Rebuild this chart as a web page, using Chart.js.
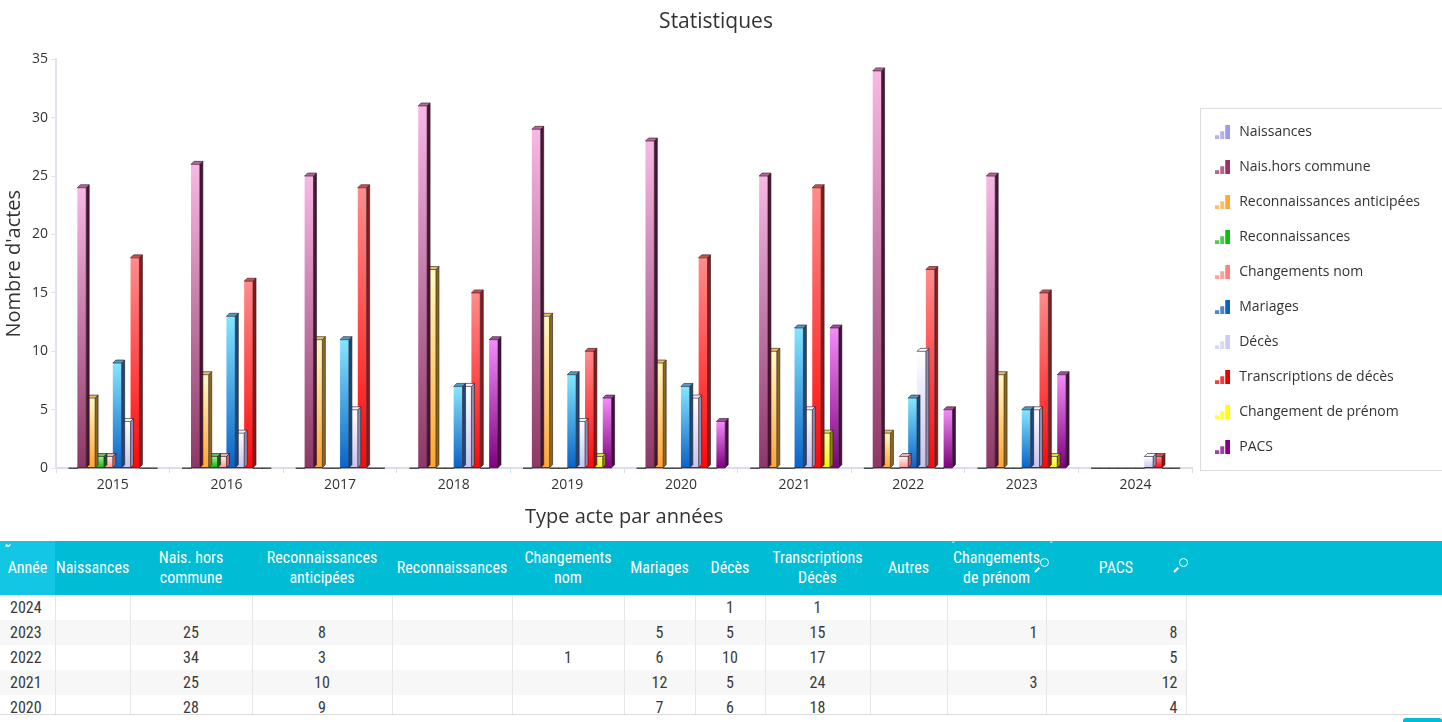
<!DOCTYPE html>
<html><head><meta charset="utf-8">
<script src="https://cdn.jsdelivr.net/npm/chart.js@4.4.0/dist/chart.umd.min.js"></script>
<style>
html,body{margin:0;padding:0;background:#fff;width:1442px;height:722px;overflow:hidden;}
#wrap{position:absolute;left:0;top:0;width:1442px;height:535px;}
#hdrbg{position:absolute;left:0;top:541px;width:1442px;height:54px;background:#00bcd4;}
#tbl{position:absolute;left:0;top:541px;width:1442px;height:173px;overflow:hidden;border-bottom:1px solid #dcdcdc;}
table{border-collapse:collapse;table-layout:fixed;width:1186px;font-family:'Liberation Sans Narrow','Roboto Condensed','Arial Narrow',sans-serif;font-size:16px;color:#3a3a3a;}
th{background:#00bcd4;color:#fff;font-weight:normal;height:54px;padding:0;line-height:20px;text-align:center;}
th.first{background:#12c6e4;}
td{height:25px;padding:0;border-right:1px solid #e6e6e6;text-align:center;line-height:25px;}
td.l{text-align:left;padding-left:10px;}
td.r{text-align:right;padding-right:8px;}
tr.alt td{background:#f7f7f7;}
.ic{position:absolute;color:#fff;font-family:'DejaVu Sans',sans-serif;}
.mag{position:absolute;width:7px;height:7px;border:1.5px solid #fff;border-radius:50%;}
.magh{position:absolute;width:6px;height:1.5px;background:#fff;transform:rotate(-45deg);}
#tab{position:absolute;left:1403px;top:718px;width:39px;height:4px;background:#00bcd4;border-radius:3px 3px 0 0;}
</style></head>
<body>
<div id="wrap"><canvas id="c"></canvas></div>
<div id="hdrbg"></div>
<div id="tbl"></div>
<span class="ic" style="left:3px;top:536px;font-size:12px;">⌄</span>
<span class="ic" style="left:4px;top:546px;font-size:8px;">ˆ</span>
<span class="ic" style="left:951px;top:539px;font-size:8px;line-height:5px;">ˆ<br>ˇ</span>
<span class="ic" style="left:1049px;top:539px;font-size:8px;line-height:5px;">ˆ<br>ˇ</span>
<div class="mag" style="left:1040px;top:558px;"></div><div class="magh" style="left:1034px;top:569px;"></div>
<div class="mag" style="left:1179px;top:558px;"></div><div class="magh" style="left:1173px;top:569px;"></div>
<div id="tab"></div>
<script>
const years = ['2015','2016','2017','2018','2019','2020','2021','2022','2023','2024'];
const seriesNames = ['Naissances','Nais.hors commune','Reconnaissances anticipées','Reconnaissances','Changements nom','Mariages','Décès','Transcriptions de décès','Changement de prénom','PACS'];
const naissances      = [0,0,0,0,0,0,0,0,0,0];
const naisHorsCommune = [24,26,25,31,29,28,25,34,25,0];
const reconAnticipees = [6,8,11,17,13,9,10,3,8,0];
const reconnaissances = [1,1,0,0,0,0,0,0,0,0];
const changementsNom  = [1,1,0,0,0,0,0,1,0,0];
const mariages        = [9,13,11,7,8,7,12,6,5,0];
const deces           = [4,3,5,7,4,6,5,10,5,1];
const transcriptions  = [18,16,24,15,10,18,24,17,15,1];
const changementPrenom= [0,0,0,0,1,0,3,0,1,0];
const pacs            = [0,0,0,11,6,4,12,5,8,0];
const yTicks = [0,5,10,15,20,25,30,35];
const tableHeaders = ['Année','Naissances','Nais. hors<br>commune','Reconnaissances<br>anticipées','Reconnaissances','Changements<br>nom','Mariages','Décès','Transcriptions<br>Décès','Autres','Changements<br>de prénom','PACS'];

const seriesData = [naissances,naisHorsCommune,reconAnticipees,reconnaissances,changementsNom,mariages,deces,transcriptions,changementPrenom,pacs];
// styles: [legend, gradTop, gradBottom, side, topFace]
const styles = [
  ['#9a9af0','#d0d0ff','#8888ee','#5555aa','#b0b0f0'],
  ['#993366','#f8b8e6','#8c3866','#4a1530','#b8689a'],
  ['#ffa83a','#fffcc4','#ffa533','#8a6a1a','#e8c060'],
  ['#11bb11','#a0f0a0','#10b010','#106010','#60c060'],
  ['#ff8080','#fff2f2','#ff9494','#c06060','#f0b0b0'],
  ['#0d5fc0','#84e6ff','#0a62c6','#1a4a7a','#4aa0d0'],
  ['#ccccf2','#ffffff','#c4c4f0','#8e8eb0','#f4f4ff'],
  ['#e60000','#ff8c8c','#ff0808','#8a1a1a','#d05050'],
  ['#ffff00','#ffff9a','#f2f200','#8a8a00','#e0e040'],
  ['#800080','#f48cfa','#7e007e','#40103f','#a050a0']
];

function gradFor(i){
  return (c)=>{
    const chart=c.chart, ca=chart.chartArea;
    if(!ca || c.type!=='data') return styles[i][0];
    const ys=chart.scales.y; const v=c.raw||0;
    const t=ys.getPixelForValue(v), b=ys.getPixelForValue(0);
    if(b-t<1) return styles[i][2];
    const g=chart.ctx.createLinearGradient(0,t,0,b);
    g.addColorStop(0,styles[i][1]); g.addColorStop(1,styles[i][2]);
    return g;
  };
}

function icon(color){
  const cv=document.createElement('canvas'); cv.width=15; cv.height=14;
  const x=cv.getContext('2d'); x.fillStyle=color;
  x.globalAlpha=0.75; x.fillRect(0,10,4,4); x.fillRect(5,6,4,8);
  x.globalAlpha=1; x.fillRect(10,0,5,14);
  return cv;
}
const icons = styles.map(s=>icon(s[0]));

const DEPTH=3;
const bar3d={
  id:'bar3d',
  afterDatasetDraw(chart,args){
    const meta=args.meta, idx=args.index, ctx=chart.ctx, st=styles[idx];
    const data=chart.data.datasets[idx].data;
    ctx.save();
    meta.data.forEach((el,i)=>{
      const p=el.getProps(['x','y','base','width'],true);
      const l=p.x-p.width/2, r=p.x+p.width/2, y=p.y, b=p.base;
      if(!data[i]){
        ctx.strokeStyle='#333'; ctx.lineWidth=1.3;
        ctx.beginPath(); ctx.moveTo(l,b); ctx.lineTo(r+0.5,b); ctx.stroke(); return;
      }
      ctx.lineWidth=0.8; ctx.strokeStyle='rgba(40,20,30,0.75)';
      ctx.fillStyle=st[3];
      ctx.beginPath(); ctx.moveTo(r,y); ctx.lineTo(r+DEPTH,y-DEPTH); ctx.lineTo(r+DEPTH,b-DEPTH); ctx.lineTo(r,b); ctx.closePath(); ctx.fill(); ctx.stroke();
      ctx.fillStyle=st[4];
      ctx.beginPath(); ctx.moveTo(l,y); ctx.lineTo(l+DEPTH,y-DEPTH); ctx.lineTo(r+DEPTH,y-DEPTH); ctx.lineTo(r,y); ctx.closePath(); ctx.fill(); ctx.stroke();
      ctx.strokeStyle='#333'; ctx.lineWidth=1.3;
      ctx.beginPath(); ctx.moveTo(l,b); ctx.lineTo(r,b); ctx.stroke();
    });
    ctx.restore();
  }
};
const legendBox={
  id:'legendBox',
  afterDraw(chart){
    const lg=chart.legend; if(!lg||!lg.legendHitBoxes||!lg.legendHitBoxes.length) return;
    const hb=lg.legendHitBoxes; const ctx=chart.ctx;
    const top=hb[0].top+hb[0].height/2-24, bot=hb[hb.length-1].top+hb[hb.length-1].height/2+23;
    const left=hb[0].left-13;
    ctx.save(); ctx.strokeStyle='#dcdcdc'; ctx.lineWidth=1;
    ctx.strokeRect(Math.round(left)+0.5,Math.round(top)+0.5,chart.width,Math.round(bot-top));
    ctx.restore();
  }
};

const FONT="'Open Sans', 'Noto Sans', sans-serif";
new Chart(document.getElementById('c'),{
  type:'bar',
  data:{labels:years, datasets:seriesNames.map((n,i)=>({
    label:n, data:seriesData[i], backgroundColor:gradFor(i), borderWidth:0,
    categoryPercentage:0.78, barPercentage:1.0
  }))},
  options:{
    responsive:true, maintainAspectRatio:false, animation:false,
    layout:{padding:{left:2,right:12,top:0,bottom:0}},
    plugins:{
      title:{display:true,text:'Statistiques',color:'#333',font:{family:FONT,size:21,weight:'normal'},padding:{top:9,bottom:25}},
      tooltip:{enabled:false},
      legend:{position:'right',align:'center',
        title:{display:true,text:'',font:{size:12},padding:{top:30,bottom:0}},
        labels:{color:'#333',font:{family:FONT,size:14},usePointStyle:true,pointStyleWidth:19,boxHeight:14,padding:21,
          generateLabels:(chart)=>chart.data.datasets.map((d,i)=>({text:d.label,fillStyle:styles[i][0],strokeStyle:styles[i][0],lineWidth:0,pointStyle:icons[i],hidden:false,datasetIndex:i,fontColor:'#333'}))
        }}
    },
    scales:{
      x:{
        grid:{display:true,drawOnChartArea:false,offset:true,tickLength:5,color:'#dcdcec'},
        border:{display:true,color:'#dcdcec',width:2},
        ticks:{color:'#333',font:{family:FONT,size:14},padding:3},
        title:{display:true,text:'Type acte par années',color:'#333',font:{family:FONT,size:20},padding:{top:9,bottom:6}}
      },
      y:{
        min:0,max:35,
        afterBuildTicks:(s)=>{s.ticks=yTicks.map(v=>({value:v}));},
        grid:{display:true,drawOnChartArea:false,tickLength:5,color:'#e2e2ee'},
        border:{display:true,color:'#e2e2ee',width:2},
        ticks:{color:'#333',font:{family:FONT,size:14},padding:3},
        title:{display:true,text:"Nombre d'actes",color:'#333',font:{family:FONT,size:20},padding:{top:0,bottom:3}}
      }
    }
  },
  plugins:[bar3d,legendBox]
});

// table
const tableSeries=[naissances,naisHorsCommune,reconAnticipees,reconnaissances,changementsNom,mariages,deces,transcriptions,null,changementPrenom,pacs];
const colWidths=[55,75,122,140,120,112,71,70,105,77,99,140];
const align=['l','c','c','c','c','c','c','c','c','c','r','r'];
let h='<table><colgroup>'+colWidths.map(w=>'<col style="width:'+w+'px">').join('')+'</colgroup><tr>';
tableHeaders.forEach((t,i)=>{h+='<th'+(i===0?' class="first"':'')+'>'+t+'</th>';});
h+='</tr>';
for(let k=years.length-1,r=0;k>=0;k--,r++){
  h+='<tr'+(r%2===1?' class="alt"':'')+'><td class="l">'+years[k]+'</td>';
  tableSeries.forEach((s,j)=>{const v=s?s[k]:0; const a=align[j+1]; h+='<td'+(a!=='c'?' class="'+a+'"':'')+'>'+(v?v:'')+'</td>';});
  h+='</tr>';
}
h+='</table>';
document.getElementById('tbl').innerHTML=h;
</script>
</body></html>
